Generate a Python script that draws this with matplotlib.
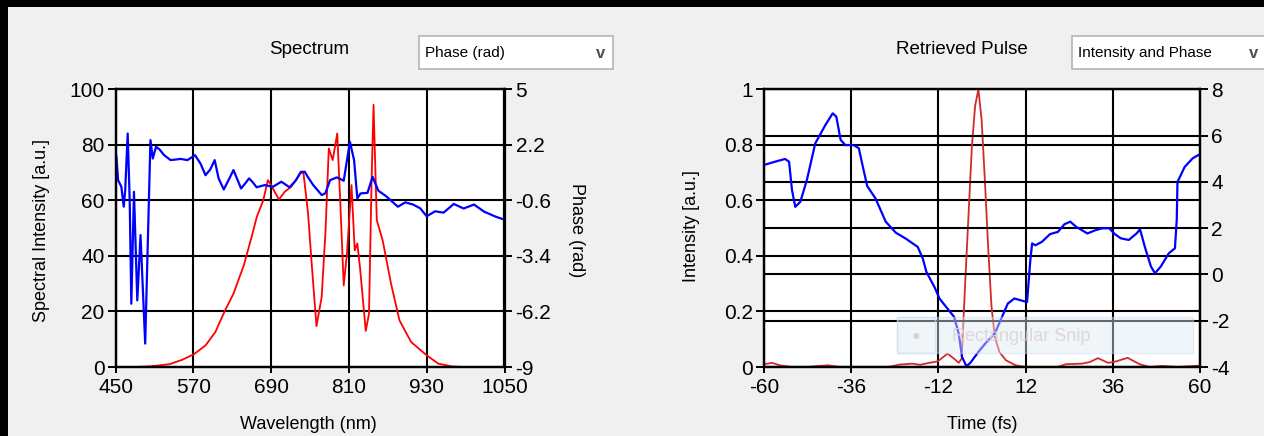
import matplotlib.pyplot as plt
from matplotlib.patches import Rectangle

plt.rcParams['font.family'] = ['Liberation Sans', 'DejaVu Sans']
plt.rcParams['axes.unicode_minus'] = False

# spectrum: intensity (a.u.) vs wavelength (nm)
spec_wl = [461, 480, 502, 533, 553, 571, 589, 604, 619, 632, 648, 660, 668, 678,
           685, 690, 702, 711, 721, 736, 740, 747, 753, 760, 768, 774, 779, 785,
           792, 797, 802, 807, 814, 819, 823, 827, 836, 841, 845, 848, 853, 862,
           875, 888, 906, 930, 948, 969, 987]
spec_int = [0.0, 0.0, 0.2, 1.0, 2.6, 4.6, 7.8, 12.6, 20.4, 26.4, 36.7, 46.9, 54.1, 60.1,
            67.3, 65.5, 60.3, 63.1, 64.9, 70.0, 69.7, 55.3, 36.0, 14.7, 25.2, 49.3, 78.7, 74.5,
            84.1, 57.7, 29.4, 40.9, 65.5, 42.0, 44.5, 36.1, 13.0, 19.2, 67.3, 94.4, 52.9, 45.7,
            30.0, 16.8, 9.0, 4.2, 1.2, 0.2, 0.0]

# spectral phase (rad) vs wavelength (nm)
phase_wl = [450, 451.5, 454, 459, 462.7, 465, 468.8, 471.9, 474.4, 478.5, 483.6, 488.6,
            495.8, 503.9, 507.5, 512.5, 517.6, 525, 535, 550.7, 561, 572.6, 581, 588.8,
            596, 603, 609, 617, 624, 632, 638, 643.7, 650, 656, 662, 667.7, 680, 693,
            705.8, 718.5, 728, 736, 742, 746.5, 755, 768, 773.5, 781, 791.7, 802, 811.6,
            818, 823, 828, 838.7, 846.5, 855.4, 867.4, 885.6, 897, 909, 920, 930, 943,
            956, 971.7, 987, 1003, 1018.7, 1037, 1050]
phase_val = [1.78, 1.60, 0.42, 0.09, -0.92, -0.08, 2.77, -0.60, -5.81, -0.17, -5.64, -2.35,
             -7.82, 2.44, 1.51, 2.10, 1.98, 1.68, 1.43, 1.49, 1.43, 1.68, 1.26, 0.67,
             0.95, 1.43, 0.51, -0.05, 0.40, 0.93, 0.45, 0.00, 0.25, 0.51, 0.30, 0.06, 0.17, 0.09,
             0.34, 0.06, 0.40, 0.84, 0.84, 0.59, 0.17, -0.33, -0.25, 0.42, 0.56, 0.39, 2.35,
             1.43, -0.50, -0.25, -0.22, 0.59, -0.11, -0.39, -0.92, -0.70, -0.81, -1.00, -1.40, -1.15,
             -1.22, -0.78, -1.01, -0.81, -1.17, -1.43, -1.57]

# retrieved pulse: intensity vs time (fs)
pulse_t = [-60, -57.8, -55.6, -52.3, -48, -45.7, -42.4, -39, -32.5, -25.8, -22.5, -19.2,
           -17, -14.5, -12.2, -9.5, -7.7, -6.4, -5.6, -4.6, -3.7, -2.8, -1.9, -1.0, -0.1,
           0.8, 1.7, 2.6, 3.5, 4.8, 6.6, 9.3, 12, 14.2, 20.8, 23, 27.5, 29.7, 31.9, 34.7,
           36.3, 40.1, 43.4, 46.2, 49.5, 53.9, 60]
pulse_int = [0.010, 0.015, 0.006, 0.0, 0.0, 0.003, 0.006, 0.0, 0.0, 0.0, 0.009, 0.012,
             0.008, 0.015, 0.020, 0.048, 0.030, 0.015, 0.030, 0.31, 0.55, 0.79, 0.94, 1.0, 0.89,
             0.67, 0.43, 0.22, 0.11, 0.054, 0.024, 0.006, 0.0, 0.0, 0.0, 0.010, 0.012, 0.018, 0.032, 0.015,
             0.018, 0.033, 0.010, 0.0, 0.004, 0.0, 0.005]

# temporal phase (rad) vs time (fs)
tphase_t = [-60, -57, -54.2, -53.1, -52.3, -51.4, -50, -48.2, -45.9, -43.1, -41.1, -40.1,
            -38.9, -37.6, -35.3, -33.9, -33, -31.6, -29.3, -26.5, -23.7, -21, -17.7, -16.3,
            -15.3, -13.1, -11.7, -9.9, -7.7, -6.4, -5.5, -4.3, -3.2, -1.0, 1.25, 3.5, 5.3,
            7.1, 8.9, 10.7, 12.4, 13.3, 13.8, 14.7, 16.5, 18.7, 20.9, 22.7, 24.3, 25.9, 29,
            31.2, 33, 35, 36.5, 38.2, 40.4, 42.6, 43.5, 44.8, 46.5, 47.6, 49.2, 51.4, 53.1,
            53.6, 53.8, 55.8, 58, 60]
tphase_val = [4.73, 4.87, 4.99, 4.87, 3.65, 2.92, 3.14, 4.08, 5.66, 6.46, 6.96, 6.82,
              5.81, 5.59, 5.59, 5.45, 4.80, 3.82, 3.28, 2.28, 1.80, 1.55, 1.19, 0.69,
              0.11, -0.54, -1.04, -1.40, -1.83, -2.56, -3.56, -3.97, -3.82, -3.35, -2.92, -2.56, -1.91,
              -1.26, -1.04, -1.12, -1.19, 0.61, 1.34, 1.26, 1.41, 1.74, 1.84, 2.17, 2.28, 2.06, 1.77,
              1.91, 1.99, 2.00, 1.75, 1.56, 1.49, 1.78, 1.95, 1.20, 0.34, 0.05, 0.34, 0.91, 1.13,
              2.36, 4.00, 4.65, 5.02, 5.20]

wl_ticks = [450, 570, 690, 810, 930, 1050]
int_ticks = [0, 20, 40, 60, 80, 100]
ph_ticks = [-9, -6.2, -3.4, -0.6, 2.2, 5]
ph_labels = ['-9', '-6.2', '-3.4', '-0.6', '2.2', '5']
t_ticks = [-60, -36, -12, 12, 36, 60]
pint_ticks = [0, 0.2, 0.4, 0.6, 0.8, 1.0]
pint_labels = ['0', '0.2', '0.4', '0.6', '0.8', '1']
tph_ticks = [-4, -2, 0, 2, 4, 6, 8]

W, H = 1264, 436
BG = '#f0f0f0'


def fx(px):
    return px / W


def fy(py):
    return 1 - py / H


def style(ax, twin):
    for a in (ax, twin):
        for s in a.spines.values():
            s.set_linewidth(1.6)
            s.set_color('black')
        a.tick_params(axis='y', direction='out', length=6, width=1.4, labelsize=15, pad=2)
    ax.tick_params(axis='x', direction='out', length=4, width=1.4, labelsize=15, pad=4)
    ax.grid(True, color='black', linewidth=1.5)
    ax.set_axisbelow(True)
    ax.set_facecolor('white')


def dropdown(x0, x1, label):
    fig.patches.append(Rectangle((fx(x0), fy(69)), fx(x1) - fx(x0), fy(36) - fy(69),
                                 transform=fig.transFigure, facecolor='white',
                                 edgecolor='#b4b4b4', linewidth=1.2))
    fig.text(fx(x0 + 6), fy(52.5), label, fontsize=11, va='center', ha='left')
    fig.text(fx(x1 - 12), fy(53), 'v', fontsize=12, fontweight='bold', color='#505050',
             va='center', ha='center')


fig = plt.figure(figsize=(W / 100, H / 100), dpi=100, facecolor=BG)

# black screen edges
fig.patches.append(Rectangle((0, fy(7)), 1, 1 - fy(7), transform=fig.transFigure,
                             facecolor='black', edgecolor='none'))
fig.patches.append(Rectangle((0, 0), fx(8), 1, transform=fig.transFigure,
                             facecolor='black', edgecolor='none'))

# ---- spectrum panel ----
ax1 = fig.add_axes([fx(115.5), fy(367), fx(504.5) - fx(115.5), fy(89.3) - fy(367)])
ax1b = ax1.twinx()
style(ax1, ax1b)
ax1.plot(spec_wl, spec_int, color='#ff0000', lw=1.3)
ax1b.plot(phase_wl, phase_val, color='#0000ff', lw=1.6)
ax1.set_xlim(450, 1050)
ax1.set_ylim(0, 100)
ax1b.set_ylim(-9, 5)
ax1.set_xticks(wl_ticks)
ax1.set_yticks(int_ticks)
ax1b.set_yticks(ph_ticks)
ax1b.set_yticklabels(ph_labels)

fig.text(fx(309), fy(50), 'Spectrum', fontsize=13.5, ha='center', va='center')
fig.text(fx(308), fy(424), 'Wavelength (nm)', fontsize=13, ha='center', va='center')
fig.text(fx(42), fy(230), 'Spectral Intensity [a.u.]', fontsize=13, rotation=90,
         ha='center', va='center')
fig.text(fx(577), fy(230), 'Phase (rad)', fontsize=13, rotation=-90,
         ha='center', va='center')
dropdown(419, 613, 'Phase (rad)')

# ---- retrieved pulse panel ----
ax2 = fig.add_axes([fx(764), fy(367), fx(1200) - fx(764), fy(89.3) - fy(367)])
ax2b = ax2.twinx()
style(ax2, ax2b)
ax2b.grid(True, axis='y', color='black', linewidth=1.5)
ax2.plot(pulse_t, pulse_int, color='#d22a2a', lw=1.3)
ax2b.plot(tphase_t, tphase_val, color='#0000ff', lw=1.6)
ax2.set_xlim(-60, 60)
ax2.set_ylim(0, 1)
ax2b.set_ylim(-4, 8)
ax2.set_xticks(t_ticks)
ax2.set_yticks(pint_ticks)
ax2.set_yticklabels(pint_labels)
ax2b.set_yticks(tph_ticks)

fig.text(fx(962), fy(49), 'Retrieved Pulse', fontsize=13.5, ha='center', va='center')
fig.text(fx(982), fy(424), 'Time (fs)', fontsize=13, ha='center', va='center')
fig.text(fx(692), fy(226), 'Intensity [a.u.]', fontsize=13, rotation=90,
         ha='center', va='center')
dropdown(1072, 1266, 'Intensity and Phase')

# faint snipping-tool tooltip left over on the screen
fig.patches.append(Rectangle((fx(897), fy(353)), fx(1193) - fx(897), fy(317) - fy(353),
                             transform=fig.transFigure, facecolor='#dfeaf6', alpha=0.45,
                             edgecolor='#c9dcef', linewidth=1))
fig.patches.append(Rectangle((fx(897), fy(353)), fx(935) - fx(897), fy(317) - fy(353),
                             transform=fig.transFigure, facecolor='none', alpha=0.6,
                             edgecolor='#c9dcef', linewidth=1))
fig.text(fx(916), fy(336), '\u25cf', fontsize=10, color='#d4d4d4', ha='center', va='center')
fig.text(fx(952), fy(336), 'Rectangular Snip', fontsize=13, color='#ddd3d3', alpha=0.9,
         ha='left', va='center')

fig.savefig('out.png', dpi=100, facecolor=BG)
